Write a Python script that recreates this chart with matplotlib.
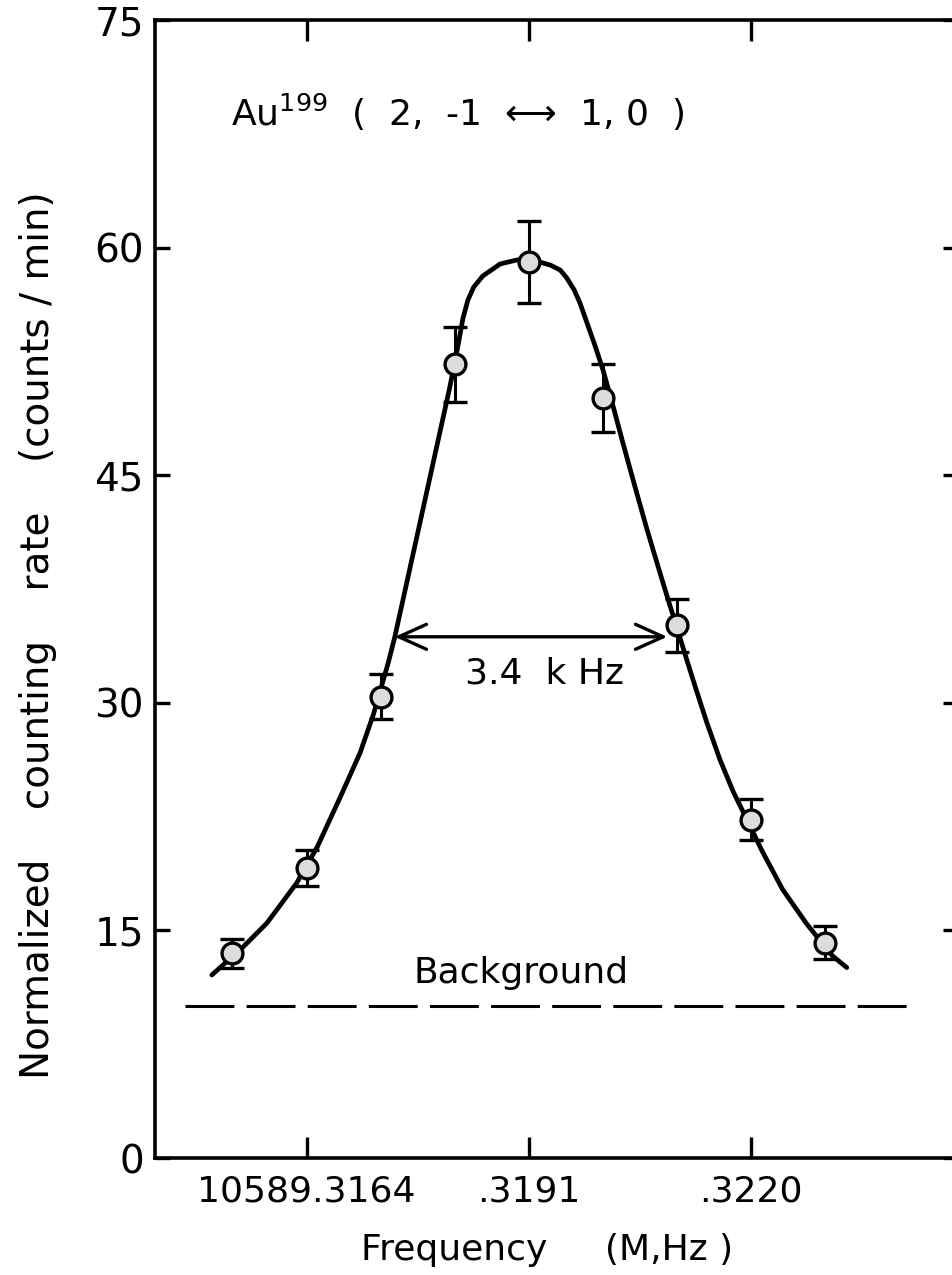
import matplotlib
matplotlib.use('Agg')  # no display
import matplotlib.pyplot as plt

# frequency offsets in kHz from 10589.3191 MHz
freq_khz = [-3.6, -2.7, -1.8, -0.9, 0.0, 0.9, 1.8, 2.7, 3.6]
rate = [13.5, 19.1, 30.4, 52.3, 59.05, 50.1, 35.1, 22.3, 14.2]
rate_err = [0.95, 1.2, 1.5, 2.5, 2.7, 2.25, 1.75, 1.35, 1.1]

# hand-drawn fit curve
curve_x = [-3.85, -3.47, -3.18, -2.82, -2.57, -2.29, -2.05, -1.89, -1.71, -1.63,
           -1.35, -0.96, -0.86, -0.80, -0.74, -0.67, -0.56, -0.35, -0.15, 0.0,
           0.13, 0.26, 0.38, 0.46, 0.55, 0.62, 0.68, 0.80, 0.90, 1.01,
           1.14, 1.29, 1.43, 1.57, 1.69, 1.80, 1.89, 2.02, 2.16, 2.32,
           2.48, 2.67, 2.83, 3.08, 3.37, 3.68, 3.86]
curve_y = [12.06, 13.91, 15.49, 18.12, 20.50, 23.79, 26.70, 29.20, 32.60, 34.30,
           41.20, 50.81, 53.58, 55.36, 56.55, 57.40, 58.13, 58.92, 59.18, 59.25,
           59.05, 58.85, 58.52, 58.00, 57.21, 56.35, 55.43, 53.58, 51.93, 49.80,
           47.15, 44.20, 41.50, 38.95, 36.80, 34.90, 33.30, 31.05, 28.70, 26.25,
           24.15, 22.05, 20.25, 17.70, 15.45, 13.35, 12.55]

background = 10.0
background_span = [-4.17, 4.6]
fwhm_span = [-1.63, 1.68]
fwhm_level = 34.35

x_ticks = [-2.7, 0.0, 2.7]
x_tick_labels = ['10589.3164', '.3191', '.3220']
y_ticks = [0, 15, 30, 45, 60, 75]

fig = plt.figure(figsize=(9.53, 12.75), dpi=100)
ax = fig.add_axes([155 / 953, 117 / 1275, 803 / 953, 1138 / 1275])

ax.plot(curve_x, curve_y, color='black', lw=3.4, solid_capstyle='round',
        solid_joinstyle='round', zorder=2)
ax.errorbar(freq_khz, rate, yerr=rate_err, fmt='o', ms=15, mfc='#dcdcdc',
            mec='black', mew=2.4, ecolor='black', elinewidth=2.2,
            capsize=8.5, capthick=2.4, zorder=3)

ax.plot(background_span, [background, background], color='black', lw=2.2,
        dashes=(16, 4), zorder=2)
ax.text(-0.1, 12.2, 'Background', fontsize=26, ha='center', va='center')

ax.annotate('', xy=(fwhm_span[0], fwhm_level), xytext=(fwhm_span[1], fwhm_level),
            arrowprops=dict(arrowstyle='<->,head_length=1.0,head_width=0.45',
                            mutation_scale=20, lw=2.4, color='black',
                            shrinkA=0, shrinkB=0))
ax.text(0.19, 31.9, '3.4  k Hz', fontsize=26, ha='center', va='center')

ax.text(-3.62, 68.9, 'Au$^{\\mathregular{199}}$  (  2,  -1  \u27f7  1, 0  )',
        fontsize=26, ha='left', va='center')

ax.set_xlim(-4.54, 5.21)
ax.set_ylim(0, 75)
ax.set_xticks(x_ticks)
ax.set_xticklabels(x_tick_labels)
ax.set_yticks(y_ticks)

for side in ax.spines:
    ax.spines[side].set_linewidth(2.6)
ax.tick_params(axis='both', direction='in', width=2.4, labelsize=28,
               top=True, right=True)
ax.tick_params(axis='x', length=15, pad=12, labelsize=26)
ax.tick_params(axis='y', length=11, pad=8)

ax.set_xlabel('Frequency     (M,Hz )', fontsize=26, va='center', ha='center')
ax.xaxis.set_label_coords((547 - 155) / 803, -(1250 - 1158) / 1138)
ax.set_ylabel('Normalized    counting    rate    (counts / min)', fontsize=28,
              va='center', ha='center')
ax.yaxis.set_label_coords(-(155 - 38) / 803, (1158 - 635) / 1138)

fig.savefig('out.png', dpi=100)
